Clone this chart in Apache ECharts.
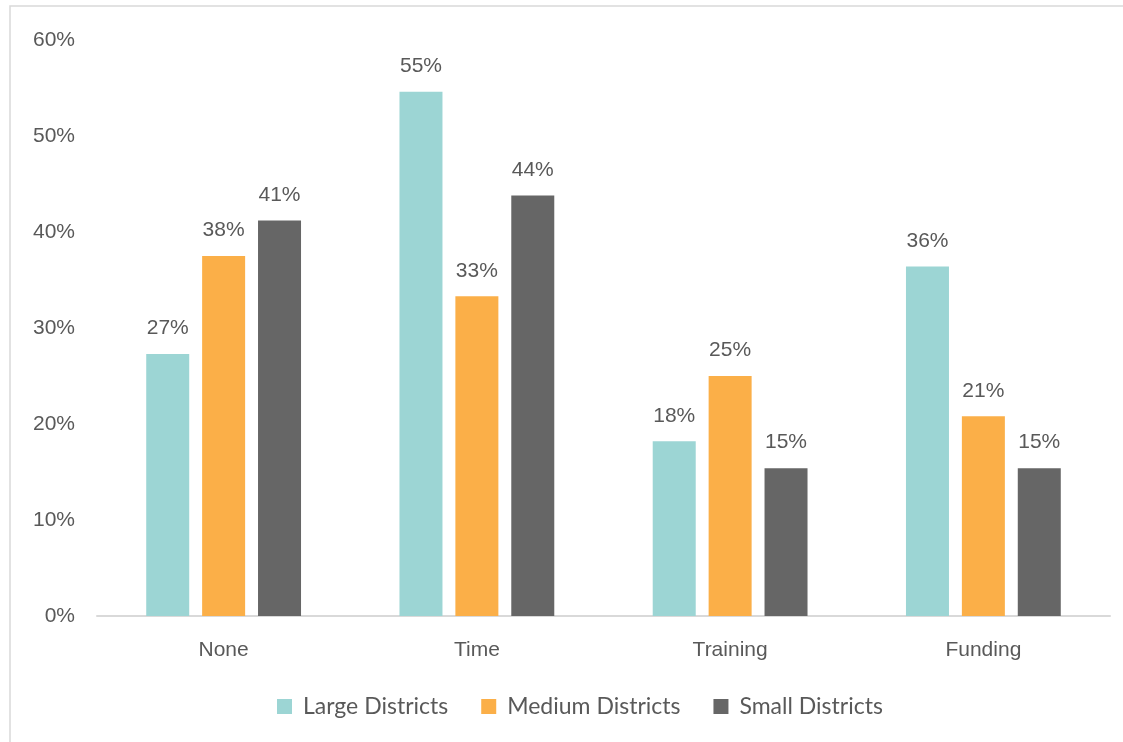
<!DOCTYPE html>
<html>
<head>
<meta charset="utf-8">
<title>Barriers by district size</title>
<script src="https://cdn.jsdelivr.net/npm/echarts@6/dist/echarts.min.js"></script>
<style>
  html, body { margin: 0; padding: 0; background: #fff; }
  #main { width: 1123px; height: 742px; }
</style>
</head>
<body>
<div id="main"></div>
<script>
// categories and values (percent)
var categories = ['None', 'Time', 'Training', 'Funding']
var seriesNames = ['Large Districts', 'Medium Districts', 'Small Districts']
var largeValues = [27.3, 54.6, 18.2, 36.4]
var mediumValues = [37.5, 33.3, 25.0, 20.8]
var smallValues = [41.2, 43.8, 15.4, 15.4]
var yTicks = [0, 10, 20, 30, 40, 50, 60]

var colors = ['#9cd5d4', '#fbaf48', '#666666']
var textColor = '#595959'

var chart = echarts.init(document.getElementById('main'))

function barSeries(name, data, idx) {
  return {
    name: name,
    type: 'bar',
    data: data,
    barWidth: 43,
    barGap: '30%',
    itemStyle: { color: colors[idx] },
    label: {
      show: true,
      position: 'top',
      distance: 15,
      color: textColor,
      fontFamily: 'Liberation Sans',
      fontSize: 21,
      formatter: function (p) { return Math.round(p.value) + '%' }
    }
  }
}

var option = {
  animation: false,
  color: colors,
  graphic: [
    {
      type: 'rect',
      shape: { x: 10, y: 6, width: 1200, height: 800 },
      style: { fill: 'none', stroke: '#d9d9d9', lineWidth: 1.5 },
      silent: true
    }
  ],
  legend: {
    data: seriesNames,
    bottom: 19,
    left: 272,
    itemWidth: 15,
    itemHeight: 15,
    itemGap: 33,
    icon: 'rect',
    textStyle: {
      color: textColor,
      fontFamily: 'Lato',
      fontSize: 23,
      padding: [0, 0, 0, 6]
    }
  },
  grid: {
    top: 40,
    left: 97,
    right: 13,
    bottom: 126,
    containLabel: false
  },
  xAxis: {
    type: 'category',
    data: categories,
    axisTick: { show: false },
    axisLine: { lineStyle: { color: '#d9d9d9', width: 2 } },
    axisLabel: {
      color: textColor,
      fontFamily: 'Liberation Sans',
      fontSize: 21,
      margin: 24
    }
  },
  yAxis: {
    type: 'value',
    min: yTicks[0],
    max: yTicks[yTicks.length - 1],
    interval: 10,
    axisLine: { show: false },
    axisTick: { show: false },
    splitLine: { show: false },
    axisLabel: {
      color: textColor,
      fontFamily: 'Liberation Sans',
      fontSize: 21,
      margin: 22,
      formatter: '{value}%'
    }
  },
  series: [
    barSeries(seriesNames[0], largeValues, 0),
    barSeries(seriesNames[1], mediumValues, 1),
    barSeries(seriesNames[2], smallValues, 2)
  ]
}

chart.setOption(option)
</script>
</body>
</html>
